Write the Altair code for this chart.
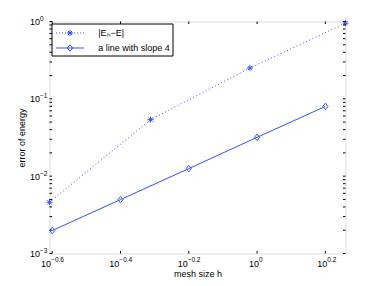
import altair as alt
import pandas as pd

# ---------------- data ----------------
h_err = [0.2466, 0.4875, 0.953, 1.8155]
err_energy = [0.0046, 0.0538, 0.25, 0.954]
h_slope = [0.2512, 0.3981, 0.631, 1.0, 1.585]
slope_line = [0.00198, 0.00498, 0.01253, 0.0318, 0.0798]
series_labels = ["|Eₕ−E|", "a line with slope 4"]

x_tick_values = [10 ** -0.6, 10 ** -0.4, 10 ** -0.2, 1.0, 10 ** 0.2]
x_tick_exps = ["−0.6", "−0.4", "−0.2", "0", "0.2"]
y_tick_values = [0.001, 0.01, 0.1, 1.0]
y_tick_exps = ["−3", "−2", "−1", "0"]
y_minor_values = [m * 10 ** k for k in (-3, -2, -1) for m in range(2, 10)]

# ---------------- style ----------------
BLUE = "#3050ff"
FONT = "Liberation Sans"
W, H = 296, 232
TL = 2.5  # inward tick length

err_df = pd.DataFrame({"h": h_err, "err": err_energy})
slope_df = pd.DataFrame({"h": h_slope, "err": slope_line})
xt_df = pd.DataFrame({"h": x_tick_values, "e": x_tick_exps})
yt_df = pd.DataFrame({"err": y_tick_values, "e": y_tick_exps})
ytick_all = pd.DataFrame({"err": y_tick_values + y_minor_values})
legend_df = pd.DataFrame({"series": series_labels})

xscale = alt.Scale(type="log", domain=[h_err[0], h_err[-1]], nice=False)
yscale = alt.Scale(type="log", domain=[0.001, 1], nice=False)

AST = "M-1,0L1,0M0,-1L0,1M-0.7,-0.7L0.7,0.7M-0.7,0.7L0.7,-0.7"
DIA = "M0,-1L0.8,0L0,1L-0.8,0Z"


def dotted_path(half=2.0, step=0.43, dot=0.143):
    parts = []
    x = -half
    while x < half:
        parts.append(f"M{x:.3f},0L{min(x + dot, half):.3f},0")
        x += step
    return "".join(parts)


LEG_AST = dotted_path() + "M-0.43,0L0.43,0M0,-0.43L0,0.43M-0.3,-0.3L0.3,0.3M-0.3,0.3L0.3,-0.3"
LEG_DIA = "M-2,0L2,0M0,-0.46L0.39,0L0,0.46L-0.39,0Z"

x_axis = alt.Axis(
    values=x_tick_values, labelExpr="'10'", ticks=False, tickSize=0, domain=False,
    grid=False, labelAlign="right", labelBaseline="middle", labelPadding=9.7,
    labelOffset={"condition": {"test": "datum.value > 0.9", "value": 1.5}, "value": -1.65},
    labelFontSize=9, title="mesh size h", titleFontSize=9, titleFontWeight="normal",
    titleBaseline="alphabetic", titleY=22.5,
)
y_axis = alt.Axis(
    values=y_tick_values, labelExpr="'10'", ticks=False, tickSize=0, domain=False,
    grid=False, labelAlign="right", labelBaseline="middle", labelPadding=10,
    labelFontSize=9, title="error of energy", titleFontSize=9, titleFontWeight="normal",
    titleBaseline="alphabetic", titleX=-25.5, titleY=H / 2,
)


def X(f="h"):
    return alt.X(f, type="quantitative", scale=xscale, axis=x_axis)


def Y(f="err"):
    return alt.Y(f, type="quantitative", scale=yscale, axis=y_axis)


err_line = alt.Chart(err_df).mark_line(color=BLUE, strokeWidth=1, strokeDash=[1, 2.5]).encode(
    x=X(), y=Y())
err_pts = alt.Chart(err_df).mark_point(shape=AST, size=36, filled=False, strokeWidth=1,
                                        color=BLUE, opacity=1).encode(x=X(), y=Y())
slope_ln = alt.Chart(slope_df).mark_line(color=BLUE, strokeWidth=1).encode(x=X(), y=Y())
slope_pts = alt.Chart(slope_df).mark_point(shape=DIA, size=42, filled=False, strokeWidth=1,
                                           color=BLUE, opacity=1).encode(x=X(), y=Y())

legend_layer = alt.Chart(legend_df).transform_filter("false").mark_point(
    filled=False, color=BLUE, strokeWidth=1, opacity=1, size=196).encode(
    shape=alt.Shape("series:N",
                    scale=alt.Scale(domain=series_labels, range=[LEG_AST, LEG_DIA]),
                    legend=alt.Legend(
                        orient="top-left", offset=1.5, title=None, padding=2,
                        strokeColor="black", fillColor="white", cornerRadius=0,
                        labelFontSize=9, labelFont=FONT, labelColor="black",
                        symbolSize=196, symbolStrokeWidth=1, symbolStrokeColor=BLUE,
                        symbolFillColor="transparent", symbolOpacity=1,
                        symbolOffset=9, labelOffset=20.7, rowPadding=2)))

tick_left = alt.Chart(ytick_all).mark_rule(color="black", strokeWidth=1).encode(
    y=Y(), x=alt.value(0), x2=alt.value(TL))
tick_right = alt.Chart(ytick_all).mark_rule(color="black", strokeWidth=1).encode(
    y=Y(), x=alt.value(W), x2=alt.value(W - TL))
tick_bottom = alt.Chart(xt_df).mark_rule(color="black", strokeWidth=1).encode(
    x=X(), y=alt.value(H), y2=alt.value(H - TL))
tick_top = alt.Chart(xt_df).mark_rule(color="black", strokeWidth=1).encode(
    x=X(), y=alt.value(0), y2=alt.value(TL))

y_exp = alt.Chart(yt_df).mark_text(align="left", baseline="middle", dy=-2.5, fontSize=6.5,
                                   font=FONT, color="black").encode(
    y=Y(), x=alt.value(-9.5), text="e:N")
x_exp_a = alt.Chart(xt_df).transform_filter("datum.h < 0.9").mark_text(
    align="left", baseline="middle", dx=-1.15, fontSize=6.5, font=FONT, color="black").encode(
    x=X(), y=alt.value(H + 6), text="e:N")
x_exp_b = alt.Chart(xt_df).transform_filter("datum.h > 0.9").mark_text(
    align="left", baseline="middle", dx=2.0, fontSize=6.5, font=FONT, color="black").encode(
    x=X(), y=alt.value(H + 6), text="e:N")

chart = alt.layer(
    err_line, slope_ln, err_pts, slope_pts, legend_layer,
    tick_left, tick_right, tick_bottom, tick_top,
    y_exp, x_exp_a, x_exp_b,
).properties(
    width=W, height=H,
    autosize=alt.AutoSizeParams(type="none"),
    padding={"left": 41.5, "top": 13.5, "right": 20, "bottom": 24},
).configure_view(stroke="black", strokeWidth=1).configure_axis(
    labelFont=FONT, titleFont=FONT, labelColor="black", titleColor="black"
).configure(background="white")

chart.save("out.html", embed_options={"renderer": "svg", "actions": False})
